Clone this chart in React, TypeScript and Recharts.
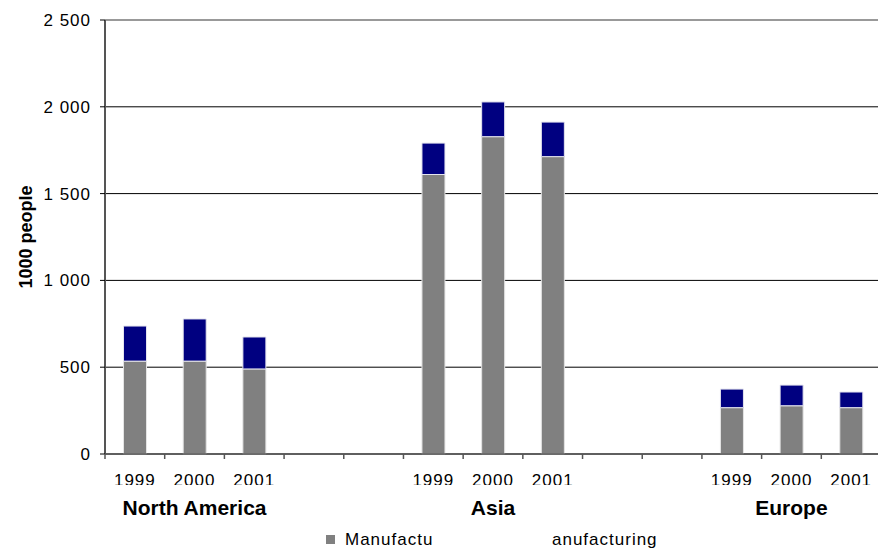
import React from "react";
import {
  Bar,
  BarChart,
  CartesianGrid,
  ReferenceLine,
  XAxis,
  YAxis,
} from "recharts";

const regions = ["North America", "Asia", "Europe"];
const years = ["1999", "2000", "2001"];
const seriesNames = ["Manufacturing", "Non-manufacturing"];
const seriesColors = ["#808080", "#000080"];
const manufacturing = [
  [535, 535, 490],
  [1610, 1828, 1713],
  [267, 278, 267],
];
const nonManufacturing = [
  [202, 243, 184],
  [181, 200, 199],
  [107, 119, 90],
];
const yTicks = [0, 500, 1000, 1500, 2000, 2500];
const gapSlots = 2;

type Row = {
  key: string;
  region: string;
  year: string;
  manufacturing: number | null;
  nonManufacturing: number | null;
};

// one slot per year, with two empty slots between the regions
const data: Row[] = [];
regions.forEach((region, r) => {
  years.forEach((year, y) => {
    data.push({
      key: `${region}-${year}`,
      region,
      year,
      manufacturing: manufacturing[r][y],
      nonManufacturing: nonManufacturing[r][y],
    });
  });
  if (r < regions.length - 1) {
    for (let g = 0; g < gapSlots; g++) {
      data.push({ key: `gap-${r}-${g}`, region: "", year: "", manufacturing: null, nonManufacturing: null });
    }
  }
});

const font = "'Liberation Sans', Arial, sans-serif";
const fmt = (v: number) => String(v).replace(/\B(?=(\d{3})+(?!\d))/g, " ");

function XTick(props: any) {
  const { x, y, payload, index } = props;
  const half = payload?.offset ?? 29.85;
  const row = data[index];
  const axisY = y - 7;
  const midYear = years[Math.floor(years.length / 2)];
  return (
    <g>
      <line x1={x - half} x2={x - half} y1={axisY} y2={axisY + 5} stroke="#555" strokeWidth={1.5} />
      {row && row.year && (
        <>
          <text x={x} y={axisY + 32} textAnchor="middle" fontFamily={font} fontSize={17} letterSpacing={1} fill="#000">
            {row.year}
          </text>
          <rect x={x - half} y={axisY + 31} width={half * 2} height={12} fill="#fff" />
        </>
      )}
      {row && row.year === midYear && (
        <text x={x} y={axisY + 61} textAnchor="middle" fontFamily={font} fontSize={21} fontWeight="bold" fill="#000">
          {row.region}
        </text>
      )}
    </g>
  );
}

function YLabel(props: any) {
  const { viewBox } = props;
  const cx = viewBox.x + 26;
  const cy = viewBox.y + viewBox.height / 2;
  return (
    <text
      x={cx}
      y={cy}
      transform={`rotate(-90, ${cx}, ${cy})`}
      textAnchor="middle"
      dominantBaseline="central"
      fontFamily={font}
      fontSize={18}
      fontWeight="bold"
      fill="#000"
    >
      1000 people
    </text>
  );
}

function LegendBox() {
  return (
    <svg width={878} height={28} style={{ position: "absolute", left: 0, top: 520 }}>
      <rect x={326} y={15} width={9} height={9} fill={seriesColors[0]} />
      <text x={345} y={25} fontFamily={font} fontSize={17} letterSpacing={1} fill="#000">
        {seriesNames[0]}
      </text>
      <rect x={477} y={15} width={9} height={9} fill={seriesColors[1]} />
      <text x={496} y={25} fontFamily={font} fontSize={17} letterSpacing={1} fill="#000">
        {seriesNames[1]}
      </text>
      {/* the original legend is partly covered */}
      <rect x={434} y={0} width={118} height={28} fill="#fff" />
    </svg>
  );
}

export default function App() {
  return (
    <div
      style={{
        position: "absolute",
        left: 0,
        top: 0,
        width: 878,
        height: 548,
        overflow: "hidden",
        background: "#fff",
      }}
    >
      <BarChart
        width={881}
        height={548}
        data={data}
        margin={{ top: 20, right: 0, bottom: 0, left: 0 }}
        barCategoryGap="31%"
      >
        <CartesianGrid vertical={false} stroke="#000" strokeWidth={1} />
        <ReferenceLine y={2500} stroke="#999" strokeWidth={2} />
        <XAxis
          dataKey="key"
          interval={0}
          tickLine={false}
          tickSize={5}
          tickMargin={2}
          axisLine={{ stroke: "#555", strokeWidth: 1.5 }}
          tick={<XTick />}
          height={94}
        />
        <YAxis
          width={105}
          domain={[0, 2500]}
          ticks={yTicks}
          tickFormatter={fmt}
          tickSize={5}
          tickMargin={9}
          tickLine={{ stroke: "#000" }}
          axisLine={{ stroke: "#555", strokeWidth: 2 }}
          tick={{ fill: "#000", fontSize: 17, fontFamily: font, letterSpacing: 1 }}
          label={<YLabel />}
        />
        <Bar
          dataKey="manufacturing"
          name={seriesNames[0]}
          stackId="a"
          fill={seriesColors[0]}
          stroke="#e4e4e4"
          strokeWidth={1}
          isAnimationActive={false}
        />
        <Bar
          dataKey="nonManufacturing"
          name={seriesNames[1]}
          stackId="a"
          fill={seriesColors[1]}
          stroke="#e4e4ee"
          strokeWidth={1}
          isAnimationActive={false}
        />
      </BarChart>
      <LegendBox />
    </div>
  );
}
